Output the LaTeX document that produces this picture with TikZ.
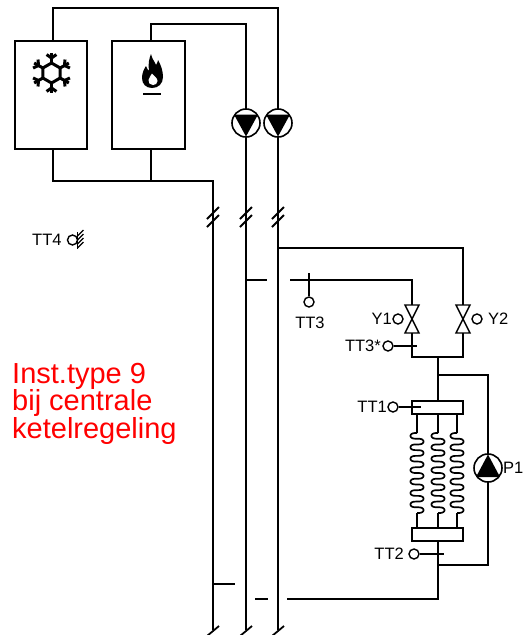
\documentclass[tikz,border=0pt]{standalone}
\usepackage{fontspec}
\setmainfont{Liberation Sans}
\begin{document}
\begin{tikzpicture}[x=1pt,y=-1pt,
  pipe/.style={line width=2.6pt},
  thinl/.style={line width=1.6pt},
  boxst/.style={draw, line width=1.8pt, minimum width=72pt, minimum height=108pt, inner sep=0pt},
  pumpc/.style={circle, draw, line width=1.6pt, minimum size=28pt, inner sep=0pt, fill=white},
  sens/.style={circle, draw, line width=1.4pt, minimum size=10pt, inner sep=0pt, fill=white},
  manif/.style={draw, fill=white, line width=1.6pt, minimum width=51pt, minimum height=13pt, inner sep=0pt},
  valvest/.style={draw, fill=white, line width=1.4pt, line join=miter},
  lbl/.style={font=\fontsize{16.5}{19}\selectfont, inner sep=0pt},
  redtxt/.style={font=\fontsize{29}{29}\selectfont, text=red, inner sep=0pt, anchor=base west},
  brk/.style={line width=1.8pt},
  coilst/.style={line width=1.7pt, line join=round}
]
\useasboundingbox (0,0) rectangle (524,635);

% units
\node[boxst] (cool) at (51,95) {};
\node[boxst, minimum width=73pt] (boil) at (148.5,95) {};

% main pipes
\draw[pipe] (cool.north -| 53,0) -- (53,8) -| (278,630);
\draw[pipe] (boil.north -| 151,0) -- (151,24) -| (246,630);
\draw[pipe] (cool.south -| 53,0) -- (53,181) -| (213,630);
\draw[pipe] (boil.south -| 151,0) -- (151,181);

% pumps on supply lines
\node[pumpc] (pa) at (246,123) {};
\node[pumpc] (pb) at (278,123) {};
\fill (234,114.5) -- (258,114.5) -- (246,136.5) -- cycle;
\fill (266,114.5) -- (290,114.5) -- (278,136.5) -- cycle;

% breaks
\foreach \bx in {213,246,278} {
  \draw[brk] (\bx-6,219) -- (\bx+6,207);
  \draw[brk] (\bx-6,227) -- (\bx+6,215);
  \draw[brk] (\bx-6,636) -- (\bx+6,626);
}

% snowflake
\begin{scope}[shift={(51.5,73)}, line width=3pt]
  \draw (90:10) -- (30:10) -- (-30:10) -- (-90:10) -- (-150:10) -- (150:10) -- cycle;
  \foreach \a in {90,30,-30,-90,-150,150} {
    \draw (\a:10) -- (\a:20);
    \draw (\a:15) -- ++(\a+55:6);
    \draw (\a:15) -- ++(\a-55:6);
  }
\end{scope}

% flame
\fill (152,88) .. controls (146,88) and (142,84) .. (142,78)
  .. controls (142,73) and (144,69) .. (146,66)
  .. controls (147,69) and (148,70) .. (149,71)
  .. controls (148,64) and (149,59) .. (151,54)
  .. controls (152,59) and (155,62) .. (156,65)
  .. controls (157,63) and (158,62) .. (158,60)
  .. controls (161,65) and (163,71) .. (163,77)
  .. controls (163,84) and (158,88) .. (152,88) -- cycle;
\fill[white] (153,85) .. controls (150,85) and (148,83) .. (148.5,80)
  .. controls (149,77) and (151,76) .. (152,73.5)
  .. controls (154,76) and (157.5,78) .. (157.5,81)
  .. controls (157.5,83.5) and (155.5,85) .. (153,85) -- cycle;
\draw[line width=2pt] (143,94) -- (161,94);

% TT4 outdoor sensor
\node[lbl, anchor=west] (tt4l) at (32,240) {TT4};
\node[sens] (tt4) at (72.5,240) {};
\draw[thinl] (77.5,232) -- (77.5,249);
\foreach \yy in {236,240,244,248} { \draw[line width=1.2pt] (77.5,\yy) -- (83.5,\yy-6); }

% red text
\node[redtxt] (t1) at (12,383) {Inst.type 9};
\node[redtxt] (t2) at (12,410.5) {bij centrale};
\node[redtxt] (t3) at (12,438) {ketelregeling};

% secondary circuit
\draw[pipe] (278,248) -- (463,248) -- (463,305);
\draw[pipe] (246,280) -- (267,280);
\draw[pipe] (290,280) -- (412,280) -- (412,305);
\node[sens] (tt3) at (309,302) {};
\draw[thinl] (309,273) -- (tt3);
\node[lbl] (tt3l) at (310,323) {TT3};

% valves
\draw[valvest] (405,305) -- (419,305) -- (405,333) -- (419,333) -- cycle;
\draw[valvest] (456,305) -- (470,305) -- (456,333) -- (470,333) -- cycle;
\node[sens] (y1a) at (398,319) {};
\node[sens] (y2a) at (477,319) {};
\node[lbl, anchor=east] (y1l) at (392,319) {Y1};
\node[lbl, anchor=west] (y2l) at (488,319) {Y2};

\draw[pipe] (412,333) -- (412,357) -- (463,357) -- (463,333);
\draw[pipe] (438,357) -- (438,401);

\node[sens] (tt3s) at (388,346) {};
\coordinate (tt3e) at (417,346);
\draw[thinl] (tt3s) -- (tt3e);
\node[lbl, anchor=east] (tt3sl) at (381,346) {TT3*};

% pump bypass loop
\draw[pipe] (438,375) -- (488,375) -- (488,565) -- (438,565);
\node[pumpc] (p1) at (488,468) {};
\fill (476,477) -- (500,477) -- (488,454.5) -- cycle;
\node[lbl, anchor=west] (p1l) at (503,468) {P1};

% heat exchanger coils
\foreach \cx in {417,438,457} {
  \draw[coilst] (\cx,414) -- (\cx,433);
  \draw[coilst] plot[domain=0:7, samples=281, variable=\tt]
     ({\cx - 6.5*sin(\tt*360)}, {433 + 11.43*\tt - 0.91*sin(\tt*720)});
  \draw[coilst] (\cx,513) -- (\cx,528);
}
\node[manif] (m1) at (437.5,407.5) {};
\node[manif] (m2) at (437.5,534.5) {};

\node[sens] (tt1) at (393,407) {};
\coordinate (tt1e) at (421,407);
\draw[thinl] (tt1) -- (tt1e);
\node[lbl, anchor=east] (tt1l) at (387,407) {TT1};

\draw[pipe] (m2.south -| 438,0) -- (438,599) -- (287,599);
\node[sens] (tt2) at (414,554) {};
\coordinate (tt2e) at (444,554);
\draw[thinl] (tt2) -- (tt2e);
\node[lbl, anchor=east] (tt2l) at (404,554) {TT2};

% bottom stubs
\draw[pipe] (213,584) -- (235,584);
\draw[pipe] (255,599) -- (268,599);
\end{tikzpicture}
\end{document}
